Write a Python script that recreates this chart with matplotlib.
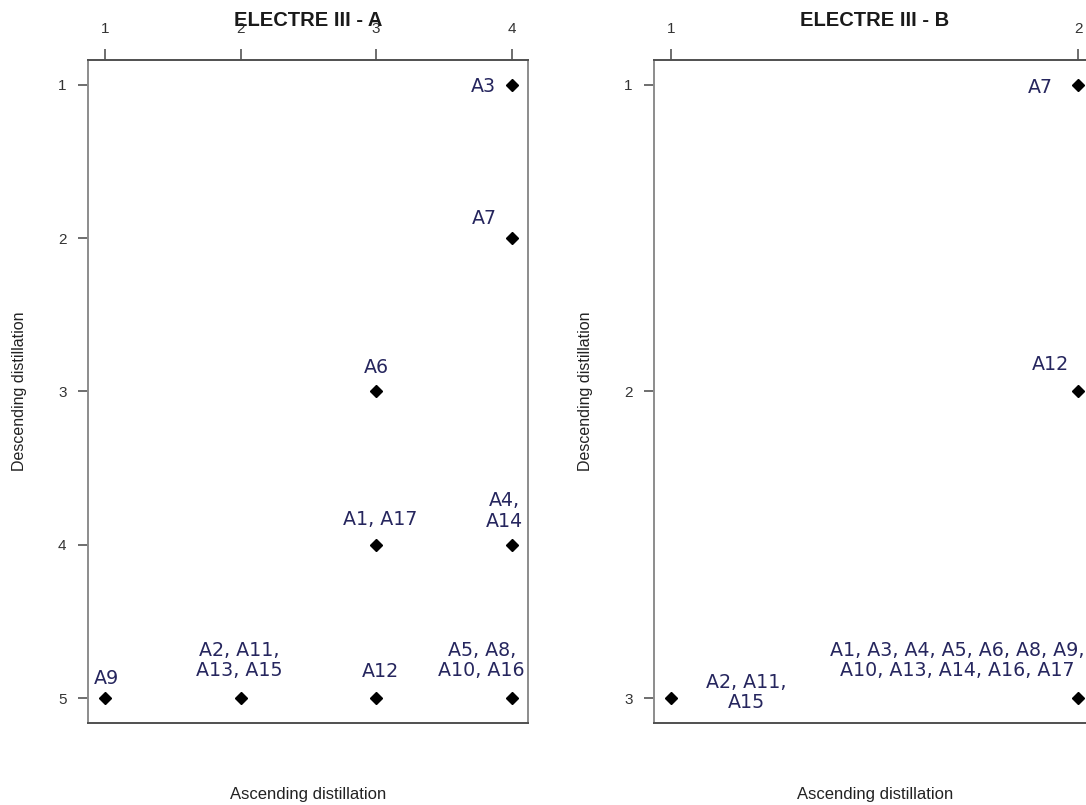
import matplotlib
matplotlib.use("Agg")
import matplotlib.pyplot as plt
from collections import OrderedDict

# ---------------- data ----------------
alternatives = [f"A{i}" for i in range(1, 18)]
# ELECTRE III - A
asc_A = [3, 2, 4, 4, 4, 3, 4, 4, 1, 4, 2, 3, 2, 4, 2, 4, 3]
desc_A = [4, 5, 1, 4, 5, 3, 2, 5, 5, 5, 5, 5, 5, 4, 5, 5, 4]
# ELECTRE III - B
asc_B = [2, 1, 2, 2, 2, 2, 2, 2, 2, 2, 1, 2, 2, 2, 1, 2, 2]
desc_B = [3, 3, 3, 3, 3, 3, 1, 3, 3, 3, 3, 2, 3, 3, 3, 3, 3]

titles = ["ELECTRE III - A", "ELECTRE III - B"]
xticks_A = [1, 2, 3, 4]
yticks_A = [1, 2, 3, 4, 5]
xticks_B = [1, 2]
yticks_B = [1, 2, 3]
xlabel = "Ascending distillation"
ylabel = "Descending distillation"

# ---------------- label layout (pixel offsets, names per line) ----------------
layout_A = {(4, 1): (-28, -2, 9), (4, 2): (-27, 20, 9), (3, 3): (0, 24, 9),
            (3, 4): (4, 25, 9), (4, 4): (-7, 34, 1), (1, 5): (2, 20, 9),
            (2, 5): (-1, 38, 2), (3, 5): (4, 27, 9), (4, 5): (-30, 38, 2)}
layout_B = {(2, 1): (-38, -3, 9), (2, 2): (-28, 27, 9),
            (2, 3): (-121, 38, 7), (1, 3): (75, 6, 2)}

W, H = 1086, 805
DPI = 100
fig = plt.figure(figsize=(W / DPI, H / DPI), dpi=DPI)

LABEL_COLOR = "#26265e"
SANS = ["Liberation Sans", "DejaVu Sans"]


def group(asc, desc):
    g = OrderedDict()
    for name, a, d in zip(alternatives, asc, desc):
        g.setdefault((a, d), []).append(name)
    return g


def wrap(names, per_line):
    lines = [", ".join(names[i:i + per_line]) for i in range(0, len(names), per_line)]
    return ",\n".join(lines)


def panel(rect, asc, desc, xticks, yticks, xlim, ylim, title, layout):
    ax = fig.add_axes(rect)
    ax.set_xlim(*xlim)
    ax.set_ylim(*ylim)
    groups = group(asc, desc)
    xs = [k[0] for k in groups]
    ys = [k[1] for k in groups]
    ax.plot(xs, ys, linestyle="none", marker="D", markersize=6.2,
            color="black", zorder=3, clip_on=False)
    for (x, y), names in groups.items():
        dx, dy, per = layout[(x, y)]
        ax.annotate(wrap(names, per), xy=(x, y),
                    xytext=(dx * 72 / DPI, dy * 72 / DPI),
                    textcoords="offset points", ha="center", va="center",
                    multialignment="center", fontsize=13.7,
                    family="DejaVu Sans", color=LABEL_COLOR,
                    linespacing=1.12, annotation_clip=False)
    ax.xaxis.tick_top()
    ax.set_xticks(xticks)
    ax.set_yticks(yticks)
    ax.tick_params(axis="x", which="both", top=True, bottom=False,
                   direction="out", length=8, width=1.2, pad=9.5,
                   colors="#555555", labelcolor="#333333", labelsize=11)
    ax.tick_params(axis="y", direction="out", length=7.5, width=1.2, pad=8,
                   colors="#555555", labelcolor="#333333", labelsize=11)
    for lab in ax.get_xticklabels() + ax.get_yticklabels():
        lab.set_family(SANS)
    for side in ["top", "bottom"]:
        ax.spines[side].set_color("#505050")
        ax.spines[side].set_linewidth(1.4)
    for side in ["left", "right"]:
        ax.spines[side].set_color("#8c8c8c")
        ax.spines[side].set_linewidth(1.4)
    ax.set_title(title, fontsize=14.5, fontweight="bold", family=SANS,
                 y=1.0513, pad=0, color="#1a1a1a")
    ax.xaxis.set_label_position("bottom")
    ax.set_xlabel(xlabel, fontsize=12, family=SANS, color="#222222", labelpad=46)
    ax.set_ylabel(ylabel, fontsize=11.5, family=SANS, color="#222222", labelpad=22)
    return ax


panel([88 / W, 82 / H, 440 / W, 663 / H], asc_A, desc_A, xticks_A, yticks_A,
      (0.875, 4.12), (5.16, 0.84), titles[0], layout_A)
panel([654 / W, 82 / H, 442 / W, 663 / H], asc_B, desc_B, xticks_B, yticks_B,
      (0.958, 2.044), (3.08, 0.92), titles[1], layout_B)

fig.savefig("out.png", dpi=DPI, facecolor="white")
